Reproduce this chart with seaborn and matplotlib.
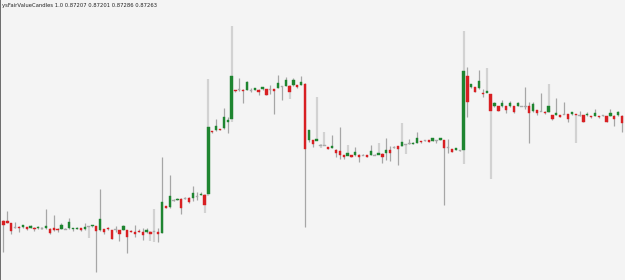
import matplotlib
matplotlib.use("Agg")
import matplotlib.pyplot as plt
import seaborn as sns
import numpy as np
import pandas as pd

# Candle values (chart units, larger = lower on screen)
opens = [220.5, 220.7, 223.3, 226.7, 226.7, 227.3, 227.3, 227.7, 227.7, 228.3,
         228.3, 228.3, 229, 228.3, 228.7, 228.7, 228.7, 228.3, 229.3, 228.7,
         228.3, 229.3, 226.3, 226.3, 226.3, 230, 229.3, 228.3, 230.3, 229.3,
         230, 230, 230, 231.3, 231.7, 230.7, 232.3, 232.3, 231.7, 231.3,
         231.7, 232.7, 206.3, 206.7, 199.7, 200, 199, 198.3, 198.3, 197.7,
         195.7, 195, 194.7, 194.3, 131, 130.3, 129, 128.3, 122, 119.3,
         90, 89.3, 89.7, 90, 90.2, 89.7, 89.7, 89.3, 89.3, 89.3,
         89.3, 88, 86.3, 86, 85.7, 85.3, 85, 84.7, 84, 140,
         140.3, 141, 144.8, 145.3, 147.3, 147.7, 150, 150.7, 155, 155.7,
         155, 155.3, 154.7, 154.7, 155.3, 155, 154.7, 154.7, 153.7, 153.3,
         150, 146.7, 146, 146.3, 144, 143.3, 144, 143, 141, 140.3,
         140.3, 140.7, 140, 140, 140, 147.3, 149.3, 150, 150.3, 150.3,
         76.3, 87.3, 87.3, 88.3, 92.7, 92.7, 94.3, 106.3, 106, 106.3,
         106.3, 106.3, 106.3, 106, 106, 106, 106, 110.7, 110, 111,
         111.7, 112.3, 115, 114.7, 115, 114, 114.3, 114.3, 114, 115.3,
         115.3, 115.3, 116, 115.7, 116, 115.3, 116, 116, 115.7, 115.3,
         115.7]
closes = [224.5, 222.7, 231, 226.7, 227.7, 225, 229, 226.3, 229.3, 227,
          228.3, 225.7, 232.7, 229.7, 229.7, 224.7, 228.7, 221.7, 228.3, 227.7,
          229.7, 227, 226.3, 225.3, 231.3, 219.3, 231.7, 229.3, 238.7, 229.3,
          234, 225.7, 236.7, 232, 234.3, 232, 235, 229.7, 234.3, 231.3,
          233.7, 202.3, 207.7, 195.7, 199.7, 198.7, 207.7, 198.3, 202.3, 193,
          195.7, 193.7, 205, 127.3, 132.3, 125.7, 130, 117, 120, 76.3,
          91.3, 89.3, 91.3, 82, 90.2, 88, 91.7, 87.3, 94.7, 89.3,
          90.7, 83.3, 86.3, 80, 92, 80.3, 87.3, 82, 149.3, 130.3,
          144.3, 139, 144.8, 145.3, 148.7, 146, 153.3, 155, 156.7, 153,
          156.7, 152, 157.3, 154.7, 157, 151, 154.7, 153, 157, 149.7,
          152.7, 146.7, 148.7, 141.7, 144, 143.3, 142.7, 137.7, 142.3, 140.3,
          142, 138.3, 140, 138.3, 148.3, 147.3, 151.7, 148.3, 150.3, 71,
          101.7, 84, 91.7, 81, 94, 90.7, 110.7, 102.7, 110.7, 103,
          110, 103.3, 112.3, 102.7, 106, 106, 113.3, 103.7, 112.7, 111,
          113.3, 106.3, 119.3, 113, 117, 114, 119, 112.3, 115.3, 115.3,
          121.7, 113.7, 117.3, 112.7, 117.3, 115.3, 121.7, 113.3, 119.3, 111.7,
          122.7]
highs = [219.5, 211, 222.5, 221.7, 226, 224.5, 227, 225, 226.5, 226,
         227, 209.3, 228, 215, 228, 223.3, 228.3, 218.3, 228, 227,
         228, 223, 225.7, 225, 225.7, 189, 228.7, 226.7, 229.7, 225.7,
         229.5, 225.3, 229.7, 230, 225, 229.3, 228, 228.3, 231.3, 209.3,
         228.3, 156.7, 205.7, 175, 198.7, 198.3, 197.7, 197.3, 197.3, 185.7,
         192.3, 191.7, 194.3, 78.7, 130.5, 119, 128.7, 108, 117, 25.7,
         89.5, 78.3, 89.3, 81, 88.3, 87.5, 89.3, 87, 89, 85,
         89, 75, 85.7, 76.7, 85.3, 78.3, 84.7, 76, 83.3, 130,
         140, 96.7, 144, 131.7, 147, 135, 149.3, 126.7, 154.7, 145,
         154.7, 146.7, 154.3, 154.3, 155, 145, 154.3, 143.3, 153.3, 138.3,
         145.7, 145.7, 145.7, 123.3, 143.7, 139.3, 142.3, 131.7, 140.7, 139.7,
         140, 138, 139.7, 138, 139.7, 139, 149, 148, 150, 31,
         66.7, 83.7, 87, 70, 89.3, 67.7, 94, 102.3, 105.7, 100,
         106, 100.7, 106, 102.3, 105.7, 87.3, 101.7, 101.7, 109.7, 92.7,
         111.3, 84, 114.7, 97.7, 114.7, 102, 114, 112, 113.7, 111,
         115, 111.7, 115.7, 109.3, 115.7, 115, 115.7, 109.3, 115.3, 110.7,
         115.3]
lows = [252, 223, 234.3, 227.5, 232.3, 228, 229.5, 228.3, 230.5, 229,
        230, 229, 233.5, 231, 232, 229.3, 229.3, 229, 231, 229.3,
        230.7, 229.7, 238.3, 226.5, 271.7, 230.5, 233.7, 229.7, 239, 231.7,
        241, 230.3, 253.3, 232.3, 236.7, 232.3, 240, 232.7, 241, 241.7,
        242, 233.3, 208.3, 208, 200.7, 200.3, 214, 199.3, 202.7, 201,
        200.3, 195.3, 212.7, 195.7, 132.7, 131, 130.3, 129, 133.3, 121.7,
        91.7, 90.7, 103.3, 90.3, 92.3, 90, 94.7, 89.7, 95, 94,
        114.3, 88.3, 100.3, 86.3, 98.7, 85.7, 87.7, 85, 226.7, 141.7,
        146.7, 141.3, 148.3, 146.3, 149, 148, 156.7, 158.7, 159.3, 156,
        157, 155.7, 161.7, 155.3, 157.3, 155.3, 155, 155, 163.3, 160,
        161, 148, 165, 146.7, 154.3, 143.7, 144.3, 143.3, 142.7, 141,
        142.3, 141, 143.3, 140.3, 205, 153.3, 152, 150.3, 150.7, 164.3,
        116.7, 87.7, 92, 88.7, 97.3, 93, 179, 106.7, 111, 106.7,
        113.3, 106.7, 112.7, 106.3, 106.3, 109, 143.3, 111.7, 115, 111.3,
        113.7, 112.7, 119.7, 115, 117.3, 114.3, 121.7, 114.7, 143.3, 115.7,
        122, 115.7, 117.7, 116, 117.7, 115.7, 122, 116.3, 125.7, 115.7,
        132.3]
light_wicks = [10, 22, 38, 39, 52, 53, 59, 74, 81, 82, 83, 89, 97, 103, 104,
               119, 125, 126, 141, 148]
title_text = "ysFairValueCandles 1.0 0.87207 0.87201 0.87286 0.87263"

sns.set_theme(style="white")
plt.rcParams['font.family'] = ['DejaVu Sans']

df = pd.DataFrame({"open": opens, "close": closes, "high": highs, "low": lows})
df["idx"] = np.arange(len(df))
df["top"] = df[["open", "close"]].min(axis=1)
df["bot"] = df[["open", "close"]].max(axis=1)
GREEN, RED, GRAY = "#1e8530", "#d81f22", "#a9a9a9"
def col(r):
    if r.close < r.open:
        return GREEN
    if r.close > r.open:
        return RED
    return GRAY
df["color"] = [col(r) for r in df.itertuples()]

fig = plt.figure(figsize=(6.25, 2.8), dpi=100)
fig.patch.set_facecolor("#f4f4f4")
ax = fig.add_axes([0, 0, 1, 1])
ax.set_facecolor("#f4f4f4")

light = df["idx"].isin(light_wicks)
ax.vlines(df.loc[~light, "idx"], df.loc[~light, "high"], df.loc[~light, "low"],
          color="#a6a6a6", linewidth=0.9, zorder=1)
ax.vlines(df.loc[light, "idx"], df.loc[light, "high"], df.loc[light, "low"],
          color="#d2d2d2", linewidth=1.6, zorder=1)

heights = np.maximum(df["bot"] - df["top"], 0.9)
ax.bar(df["idx"], heights, bottom=df["top"], width=0.6, color=df["color"],
       edgecolor=df["color"], linewidth=0.3, zorder=2)

ax.set_xlim(-0.905, 160.76)
ax.set_ylim(280, 0)
ax.set_xticks([])
ax.set_yticks([])
for s in ["top", "right", "bottom"]:
    ax.spines[s].set_visible(False)
ax.spines["left"].set_color("#555555")
ax.spines["left"].set_linewidth(1.2)

fig.text(2 / 625, 1 - 3 / 280, title_text, fontsize=3.8, color="#222222",
         ha="left", va="top")

fig.savefig("out.png", dpi=100, facecolor=fig.get_facecolor())
